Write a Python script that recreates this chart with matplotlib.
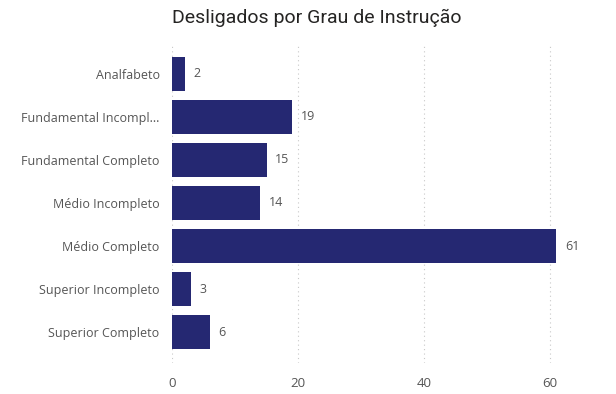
import matplotlib
matplotlib.use('Agg')
import matplotlib.pyplot as plt

categorias = ['Analfabeto', 'Fundamental Incompl...', 'Fundamental Completo',
              'Médio Incompleto', 'Médio Completo', 'Superior Incompleto',
              'Superior Completo']
valores = [2, 19, 15, 14, 61, 3, 6]
ticks_x = [0, 20, 40, 60]

plt.rcParams['font.family'] = ['Open Sans', 'DejaVu Sans']

fig = plt.figure(figsize=(6.16, 3.94), dpi=100)
ax = fig.add_axes([172 / 616, 1 - 363 / 394, (588 - 172) / 616, (363 - 43) / 394])

pos = list(range(len(categorias)))
ax.barh(pos, valores, height=0.78, color='#252872', zorder=3)
for p, v in zip(pos, valores):
    ax.text(v + 1.4, p, str(v), va='center', ha='left', fontsize=9, color='#555555')

ax.set_yticks(pos)
ax.set_yticklabels(categorias, fontsize=9, color='#555555')
ax.set_ylim(6.72, -0.72)
ax.set_xlim(0, 66)
ax.set_xticks(ticks_x)
ax.set_xticklabels([str(t) for t in ticks_x], fontsize=9.5, color='#555555')
ax.tick_params(axis='both', length=0)
ax.tick_params(axis='y', pad=9)
ax.tick_params(axis='x', pad=10)
ax.grid(axis='x', linestyle=(0, (1, 3)), color='#c8c8c8', linewidth=0.8, zorder=0)
for s in ax.spines.values():
    s.set_visible(False)

fig.text(317 / 616, 1 - 18 / 394, 'Desligados por Grau de Instrução', ha='center', va='center',
         fontsize=14, color='#252423', family=['Roboto', 'DejaVu Sans'])

fig.savefig('out.png', dpi=100)
